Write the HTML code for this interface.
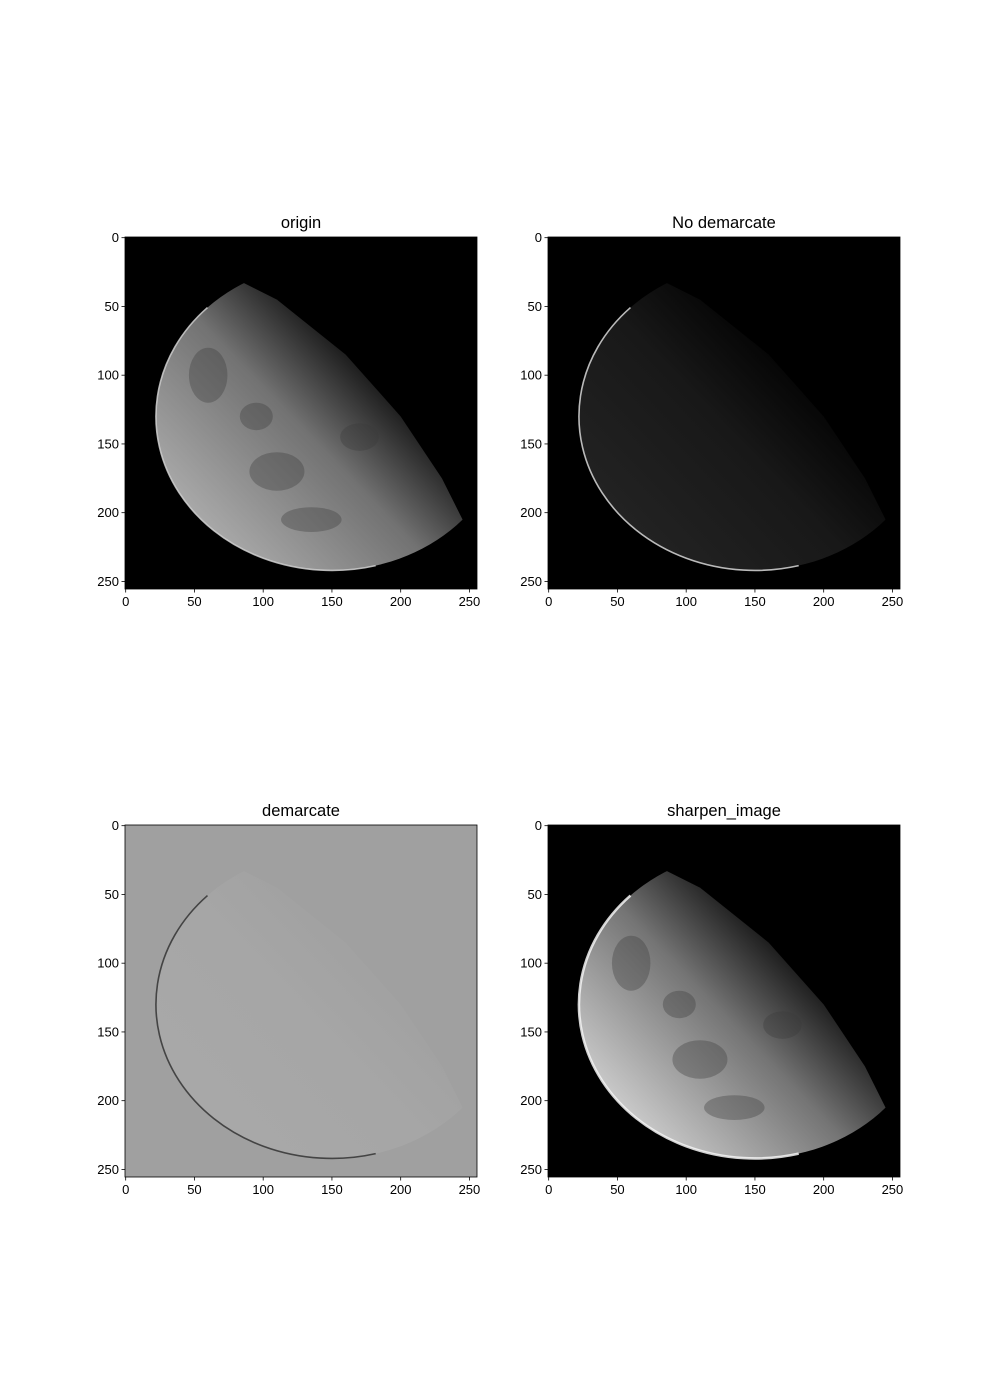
<!DOCTYPE html>
<html><head><meta charset="utf-8"><style>
body{margin:0;background:#fff;}
svg{display:block;font-family:"Liberation Sans","DejaVu Sans",sans-serif;}
</style></head><body>
<svg id="fig" width="1000" height="1400" viewBox="0 0 1000 1400" xmlns="http://www.w3.org/2000/svg">
<defs></defs>
</svg>
<script>
const ticks=[0,50,100,150,200,250];
const tickLabels=["0","50","100","150","200","250"];
const titles=["origin","No demarcate","demarcate","sharpen_image"];
const panelNames=["origin-panel","no-demarcate-panel","demarcate-panel","sharpen-image-panel"];
const origins=[[125,237],[548,237],[125,825],[548,825]];
// moon geometry in image-pixel units (cx, cy, rx, ry)
const moon=[150,130,128,112];
// terminator curve (image units)
const termX=[60,110,160,200,230,250,262];
const termY=[20,45,85,130,175,215,260];
const NS="http://www.w3.org/2000/svg";
const svg=document.getElementById('fig');
const defs=svg.querySelector('defs');
const S=352/256;
function mk(t,a,p){const e=document.createElementNS(NS,t);for(const k in a)e.setAttribute(k,a[k]);(p||svg).appendChild(e);return e;}
const styles=[
 {bg:"#000",fill:"#727272",lit:"#a8a8a8",limb:"#d0d0d0",limbW:1.6,mare:"#3a3a3a"},
 {bg:"#000",fill:"#181818",lit:"#222",limb:"#d8d8d8",limbW:1.6,mare:"#0a0a0a"},
 {bg:"#a0a0a0",fill:"#a6a6a6",lit:"#a8a8a8",limb:"#333",limbW:1.6,mare:"#9c9c9c"},
 {bg:"#000",fill:"#747474",lit:"#c8c8c8",limb:"#f4f4f4",limbW:2.6,mare:"#383838"}];
const mares=[[60,100,14,20],[110,170,20,14],[135,205,22,9],[95,130,12,10],[170,145,14,10]];
origins.forEach((o,i)=>{
 const[x0,y0]=o;const st=styles[i];
 const X=v=>x0+(v+0.5)*S, Y=v=>y0+(v+0.5)*S;
 const g=mk('g',{});
 
 
 const cid='clip'+i;
 const cp=mk('clipPath',{id:cid},defs);
 mk('rect',{x:x0,y:y0,width:352,height:352},cp);
 mk('rect',{x:x0,y:y0,width:352,height:352,fill:st.bg},g);
 const gid='gr'+i;
 const lg=mk('linearGradient',{id:gid,gradientUnits:'userSpaceOnUse',x1:X(55),y1:Y(205),x2:X(185),y2:Y(80)},defs);
 mk('stop',{offset:'0','stop-color':st.lit},lg);
 mk('stop',{offset:'0.55','stop-color':st.fill},lg);
 mk('stop',{offset:'1','stop-color':st.bg},lg);
 const mc='mclip'+i;
 const mcp=mk('clipPath',{id:mc},defs);
 mk('ellipse',{cx:X(moon[0]),cy:Y(moon[1]),rx:moon[2]*S,ry:moon[3]*S},mcp);
 const tc='tclip'+i;
 const tcp=mk('clipPath',{id:tc},defs);
 let pts=termX.map((v,k)=>`${X(v)},${Y(termY[k])}`).join(' ');
 pts+=` ${X(0)},${Y(300)} ${X(-50)},${Y(0)}`;
 mk('polygon',{points:pts},tcp);
 const outer=mk('g',{'clip-path':'url(#'+mc+')'},g);
 const mg=mk('g',{'clip-path':'url(#'+tc+')'},outer);
 
 
 mk('rect',{x:x0,y:y0,width:352,height:352,fill:'url(#'+gid+')'},mg);
 if(i===0||i===3){mares.forEach(m=>mk('ellipse',{cx:X(m[0]),cy:Y(m[1]),rx:m[2]*S,ry:m[3]*S,fill:st.mare,opacity:0.35},mg));}
 const a0=Math.PI*0.42,a1=Math.PI*1.25;
 const px=a=>X(moon[0]+moon[2]*Math.cos(a)),py=a=>Y(moon[1]+moon[3]*Math.sin(a));
 const arc=mk('path',{d:`M${px(a0)},${py(a0)} A${moon[2]*S},${moon[3]*S} 0 0 1 ${px(a1)},${py(a1)}`,fill:'none',stroke:st.limb,'stroke-width':st.limbW,'stroke-opacity':0.85,'clip-path':'url(#'+cid+')'},g);
 
 
 mk('rect',{x:x0,y:y0,width:352,height:352,fill:'none',stroke:'#000','stroke-width':0.8},g);
 ticks.forEach((t,k)=>{
  mk('line',{x1:X(t),x2:X(t),y1:y0+352,y2:y0+352+3.5,stroke:'#000','stroke-width':0.8},g);
  const tx=mk('text',{x:X(t),y:y0+352+17,'font-size':13,'text-anchor':'middle'},g);tx.textContent=tickLabels[k];
  
  
  mk('line',{x1:x0-3.5,x2:x0,y1:Y(t),y2:Y(t),stroke:'#000','stroke-width':0.8},g);
  const ty=mk('text',{x:x0-6,y:Y(t)+4.5,'font-size':13,'text-anchor':'end'},g);ty.textContent=tickLabels[k];
  
  
 });
 const tt=mk('text',{x:x0+176,y:y0-9,'font-size':16.5,'text-anchor':'middle'},g);tt.textContent=titles[i];
 
 
});
</script>
</body></html>
